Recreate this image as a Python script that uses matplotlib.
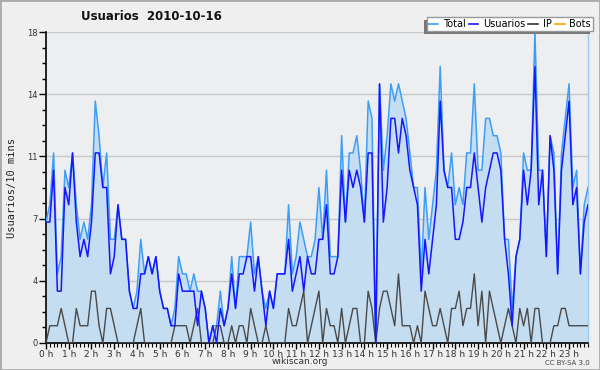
import matplotlib
matplotlib.use("Agg")
import matplotlib.pyplot as plt
from matplotlib.lines import Line2D
from matplotlib.patches import Rectangle
import numpy as np

# 10-minute slots over the day 2010-10-16 (144 points)
total = [
    7, 8, 11, 4, 5, 10, 9, 11, 8, 6, 7, 6,
    8, 14, 12, 9, 11, 6, 6, 8, 6, 6, 3, 2,
    3, 6, 4, 5, 4, 5, 3, 2, 2, 1, 2, 5,
    4, 4, 3, 4, 3, 3, 2, 0, 1, 1, 3, 1,
    2, 5, 2, 5, 5, 5, 7, 4, 5, 3, 2, 3,
    2, 4, 4, 4, 8, 4, 5, 7, 6, 5, 5, 6,
    9, 6, 10, 5, 5, 5, 12, 7, 11, 11, 12, 10,
    7, 14, 13, 0, 15, 10, 12, 15, 14, 15, 14, 13,
    11, 9, 9, 4, 9, 6, 8, 10, 16, 10, 9, 11,
    8, 9, 8, 11, 11, 15, 10, 10, 13, 13, 12, 12,
    11, 6, 6, 2, 5, 6, 11, 10, 10, 18, 10, 10,
    5, 12, 11, 4, 11, 13, 15, 9, 10, 4, 8, 9,
]
usuarios = [
    7, 7, 10, 3, 3, 9, 8, 11, 7, 5, 6, 5,
    7, 11, 11, 9, 9, 4, 5, 8, 6, 6, 3, 2,
    2, 4, 4, 5, 4, 5, 3, 2, 2, 1, 1, 4,
    3, 3, 3, 3, 1, 3, 2, 0, 1, 0, 2, 1,
    2, 4, 2, 4, 4, 5, 5, 3, 5, 3, 1, 3,
    2, 4, 4, 4, 6, 3, 4, 5, 3, 5, 4, 4,
    6, 6, 8, 4, 4, 5, 10, 7, 10, 9, 10, 9,
    7, 11, 11, 0, 15, 7, 9, 13, 13, 11, 13, 12,
    10, 9, 8, 3, 6, 4, 6, 8, 14, 10, 9, 9,
    6, 6, 7, 9, 9, 11, 9, 7, 9, 10, 11, 11,
    10, 6, 4, 1, 5, 6, 10, 8, 10, 16, 8, 10,
    5, 12, 10, 4, 10, 12, 14, 8, 9, 4, 7, 8,
]
ip = [
    0, 1, 1, 1, 2, 1, 0, 0, 2, 1, 1, 1,
    3, 3, 1, 0, 2, 2, 1, 0, 0, 0, 0, 0,
    1, 2, 0, 0, 0, 0, 0, 0, 0, 0, 1, 1,
    1, 1, 0, 1, 2, 0, 0, 0, 0, 1, 1, 0,
    0, 1, 0, 1, 1, 0, 2, 1, 0, 0, 1, 0,
    0, 0, 0, 0, 2, 1, 1, 2, 3, 0, 1, 2,
    3, 0, 2, 1, 1, 0, 2, 0, 1, 2, 2, 0,
    0, 3, 2, 0, 2, 3, 3, 2, 1, 4, 1, 1,
    1, 0, 1, 0, 3, 2, 1, 1, 2, 1, 0, 2,
    2, 3, 1, 2, 2, 4, 1, 3, 0, 3, 2, 1,
    0, 1, 2, 1, 0, 2, 1, 2, 0, 2, 2, 0,
    0, 0, 1, 1, 2, 2, 1, 1, 1, 1, 1, 1,
]
hour_labels = ["%d h" % h for h in range(24)]
ytick_vals = [0, 3.6, 7.2, 10.8, 14.4, 18]
ytick_labels = ["0", "4", "7", "11", "14", "18"]

x = np.arange(len(total))

fig = plt.figure(figsize=(6, 3.7), dpi=100, facecolor="#efefef")
ax = fig.add_axes([46 / 600, 1 - 343 / 370, 542 / 600, 311 / 370])
ax.set_facecolor("#edeef0")

ax.fill_between(x, total, 0, color="#c5ddf1", lw=0, zorder=1)
ax.plot(x, total, color="#3d9ef8", lw=1.1, zorder=3)
ax.plot(x, usuarios, color="#1515ff", lw=1.1, zorder=4)
ax.plot(x, ip, color="#4a4a4a", lw=1.0, zorder=3)

ax.set_xlim(0, len(total) - 1)
ax.set_ylim(0, 18)

ax.set_yticks(ytick_vals)
ax.set_yticklabels(ytick_labels)
ax.set_yticks(np.arange(0, 18.01, 0.9), minor=True)
ax.set_xticks(np.arange(0, 144, 6))
ax.set_xticklabels(hour_labels)
ax.set_xticks(np.arange(0, 144, 1), minor=True)

ax.tick_params(axis="y", which="major", length=5, width=1, labelsize=6, colors="k",
               labelcolor="#333333", pad=1)
ax.tick_params(axis="y", which="minor", length=3, width=1, colors="k")
ax.tick_params(axis="x", which="major", length=4, width=1, labelsize=6.5, colors="k",
               labelcolor="#333333", pad=1)
ax.tick_params(axis="x", which="minor", length=3, width=0.8, colors="k")

ax.grid(axis="y", which="major", color="#c8c8c8", lw=1, zorder=0)
ax.set_axisbelow(True)

ax.spines["top"].set_visible(False)
ax.spines["right"].set_color("#9ccaf5")
ax.spines["right"].set_linewidth(1)
ax.spines["left"].set_linewidth(1.2)
ax.spines["bottom"].set_linewidth(1.2)

ax.set_ylabel("Usuarios/10 mins", family="DejaVu Sans Mono", fontsize=7.5,
              color="#222222", labelpad=7)

fig.text(151 / 600, 1 - 16 / 370, "Usuarios  2010-10-16", ha="center", va="center",
         fontsize=8.5, fontweight="bold", color="#111111")
fig.text(300 / 600, 1 - 362 / 370, "wikiscan.org", ha="center", va="center",
         fontsize=6.5, color="#333333")
fig.text(590 / 600, 1 - 363 / 370, "CC BY-SA 3.0", ha="right", va="center",
         fontsize=5, color="#444444")

# outer frame
fig.patches.append(Rectangle((0, 0), 1, 1, transform=fig.transFigure, fill=False,
                             edgecolor="#aaaaaa", lw=2, zorder=0))

handles = [Line2D([], [], color="#3d9ef8", lw=1.2),
           Line2D([], [], color="#1515ff", lw=1.2),
           Line2D([], [], color="#333333", lw=1.2),
           Line2D([], [], color="#ff9900", lw=1.2)]
leg = fig.legend(handles, ["Total", "Usuarios", "IP", "Bots"], loc="upper right",
                 bbox_to_anchor=(593 / 600, 1 - 17 / 370), ncol=4, fontsize=7,
                 handlelength=1.0, handletextpad=0.5, columnspacing=0.3,
                 borderpad=0.2, borderaxespad=0, fancybox=False, edgecolor="#999999",
                 framealpha=1, facecolor="white")
leg.set_zorder(6)

fig.canvas.draw()
bb = leg.get_window_extent().transformed(fig.transFigure.inverted())
fig.patches.append(Rectangle((bb.x0 - 3 / 600, bb.y0 - 3 / 370), bb.width, bb.height,
                             transform=fig.transFigure, facecolor="#777777",
                             edgecolor="none", zorder=5))

fig.savefig("out.png", dpi=100, facecolor=fig.get_facecolor())
